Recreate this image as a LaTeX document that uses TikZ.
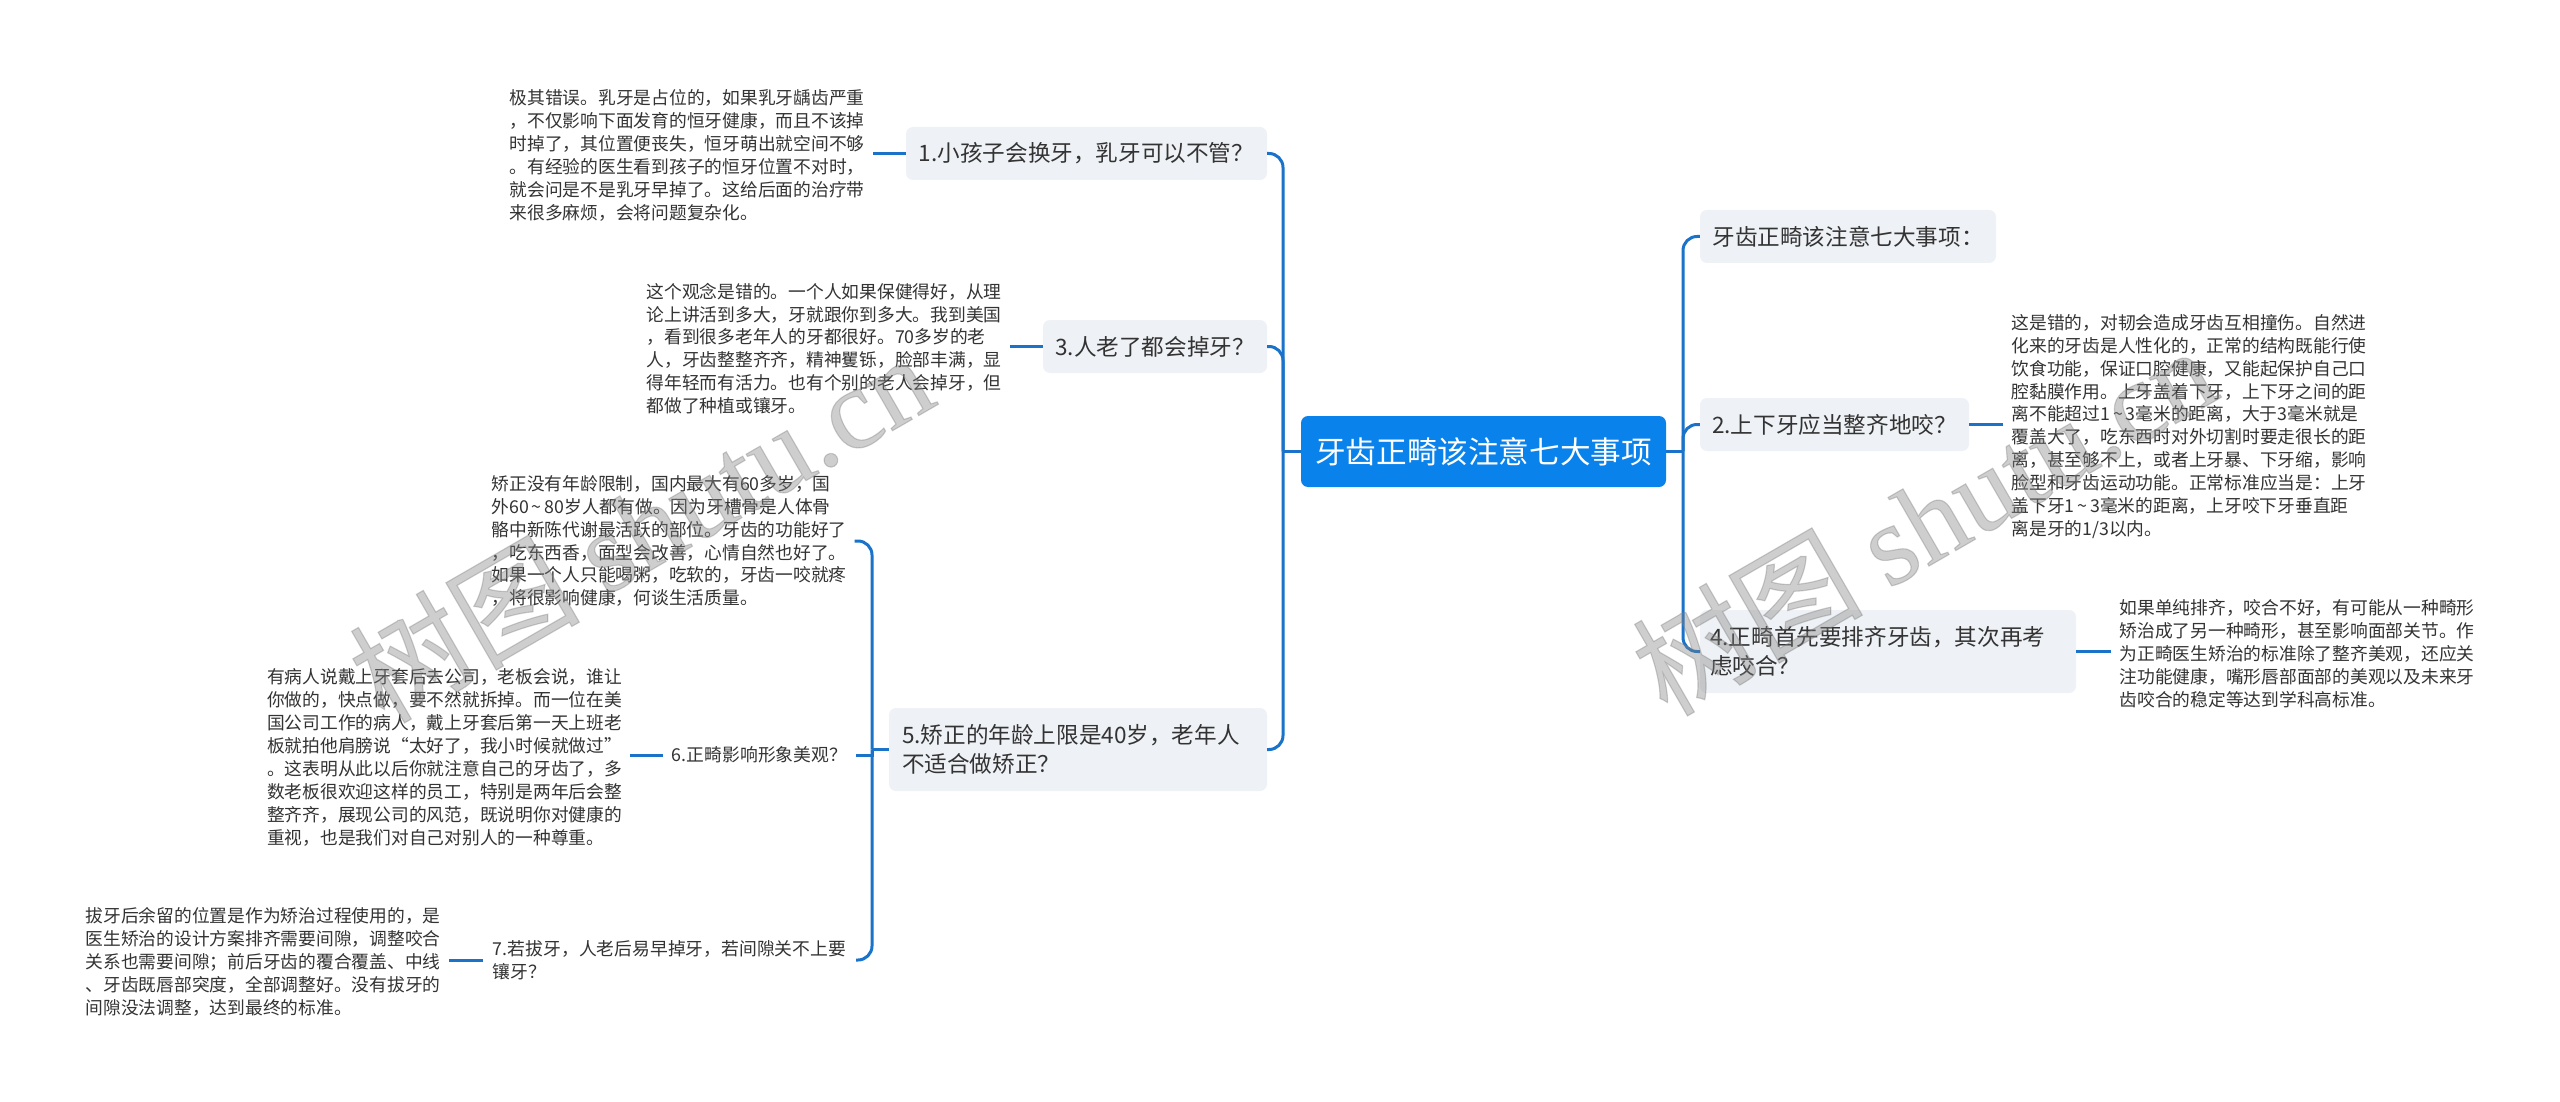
\documentclass[tikz,border=0pt]{standalone}
\usepackage{fontspec}
\setmainfont{Noto Sans CJK SC}
\newfontfamily\markfont[FakeBold=1]{Liberation Serif}
\newfontfamily\markcjk[FakeBold=1]{Noto Sans CJK SC}
\definecolor{linkblue}{HTML}{1A73C8}
\definecolor{rootblue}{HTML}{0A82EC}
\definecolor{boxgray}{HTML}{EEF1F5}
\definecolor{inkgray}{HTML}{333333}
% full width punctuation
\newcommand{\cnc}{^^^^ff0c}
\newcommand{\cnq}{^^^^ff1f}
\newcommand{\cnk}{^^^^ff1a}
\newcommand{\cnf}{^^^^ff1b}
\newcommand{\tld}{\,\textasciitilde\,}
\tikzset{
  link/.style={draw=linkblue,line width=3pt,rounded corners=14pt},
  rootbox/.style={fill=rootblue,text=white,rounded corners=7pt,inner sep=0pt,minimum width=365pt,minimum height=71pt,font=\fontsize{30.6}{36}\selectfont},
  topic/.style={fill=boxgray,text=inkgray,rounded corners=7pt,inner sep=0pt,align=left,font=\fontsize{22.6}{29}\selectfont},
  subtopic/.style={text=inkgray,inner sep=0pt,align=left,font=\fontsize{17.8}{23}\selectfont},
  leaf/.style={text=inkgray,inner xsep=8pt,inner ysep=0pt,align=left,font=\fontsize{17.75}{22.9}\selectfont},
  wmark/.style={text=gray,text opacity=0.38,inner sep=0pt,rotate=30,font=\fontsize{115}{115}\selectfont\markcjk}
}
\begin{document}
\begin{tikzpicture}[x=1pt,y=-1pt]
\useasboundingbox (0,0) rectangle (2560,1102);
\fill[white] (0,0) rectangle (2560,1102);
% centre
\node[rootbox] (root) at (1483.5,451.5) {牙齿正畸该注意七大事项};
% left branch
\node[topic,minimum width=361pt,minimum height=53pt] (n1) at (1086.5,153.5) {1.小孩子会换牙\cnc{}乳牙可以不管\cnq};
\node[topic,minimum width=224pt,minimum height=53pt] (n3) at (1155,346.5) {3.人老了都会掉牙\cnq};
\node[topic,text width=352pt,minimum width=378pt,minimum height=83pt] (n5) at (1078,749.5) {5.矫正的年龄上限是40岁\cnc{}老年人\\不适合做矫正\cnq};
\node[subtopic,minimum width=193pt,minimum height=30pt] (n6) at (759.5,755) {6.正畸影响形象美观\cnq};
\node[subtopic,minimum width=373pt,minimum height=53pt] (n7) at (669.5,960) {7.若拔牙\cnc{}人老后易早掉牙\cnc{}若间隙关不上要\\镶牙\cnq};
\node[leaf] (l1) at (687,155.5) {极其错误。乳牙是占位的\cnc{}如果乳牙龋齿严重\\\cnc{}不仅影响下面发育的恒牙健康\cnc{}而且不该掉\\时掉了\cnc{}其位置便丧失\cnc{}恒牙萌出就空间不够\\。有经验的医生看到孩子的恒牙位置不对时\cnc\\就会问是不是乳牙早掉了。这给后面的治疗带\\来很多麻烦\cnc{}会将问题复杂化。};
\node[leaf] (l3) at (824,348.5) {这个观念是错的。一个人如果保健得好\cnc{}从理\\论上讲活到多大\cnc{}牙就跟你到多大。我到美国\\\cnc{}看到很多老年人的牙都很好。70多岁的老\\人\cnc{}牙齿整整齐齐\cnc{}精神矍铄\cnc{}脸部丰满\cnc{}显\\得年轻而有活力。也有个别的老人会掉牙\cnc{}但\\都做了种植或镶牙。};
\node[leaf] (l5) at (669,541) {矫正没有年龄限制\cnc{}国内最大有60多岁\cnc{}国\\外60\tld{}80岁人都有做。因为牙槽骨是人体骨\\骼中新陈代谢最活跃的部位。牙齿的功能好了\\\cnc{}吃东西香\cnc{}面型会改善\cnc{}心情自然也好了。\\如果一个人只能喝粥\cnc{}吃软的\cnc{}牙齿一咬就疼\\\cnc{}将很影响健康\cnc{}何谈生活质量。};
\node[leaf] (l6) at (444.5,757.5) {有病人说戴上牙套后去公司\cnc{}老板会说\cnc{}谁让\\你做的\cnc{}快点做\cnc{}要不然就拆掉。而一位在美\\国公司工作的病人\cnc{}戴上牙套后第一天上班老\\板就拍他肩膀说“太好了\cnc{}我小时候就做过”\\。这表明从此以后你就注意自己的牙齿了\cnc{}多\\数老板很欢迎这样的员工\cnc{}特别是两年后会整\\整齐齐\cnc{}展现公司的风范\cnc{}既说明你对健康的\\重视\cnc{}也是我们对自己对别人的一种尊重。};
\node[leaf] (l7) at (263,962) {拔牙后余留的位置是作为矫治过程使用的\cnc{}是\\医生矫治的设计方案排齐需要间隙\cnc{}调整咬合\\关系也需要间隙\cnf{}前后牙齿的覆合覆盖、中线\\、牙齿既唇部突度\cnc{}全部调整好。没有拔牙的\\间隙没法调整\cnc{}达到最终的标准。};
% right branch
\node[topic,minimum width=296pt,minimum height=53pt] (n0) at (1848,236.5) {牙齿正畸该注意七大事项\cnk};
\node[topic,minimum width=269pt,minimum height=53pt] (n2) at (1834.5,424.5) {2.上下牙应当整齐地咬\cnq};
\node[topic,text width=356pt,minimum width=376pt,minimum height=83pt] (n4) at (1888,651.5) {4.正畸首先要排齐牙齿\cnc{}其次再考\\虑咬合\cnq};
\node[leaf] (l2) at (2189,426.5) {这是错的\cnc{}对韧会造成牙齿互相撞伤。自然进\\化来的牙齿是人性化的\cnc{}正常的结构既能行使\\饮食功能\cnc{}保证口腔健康\cnc{}又能起保护自己口\\腔黏膜作用。上牙盖着下牙\cnc{}上下牙之间的距\\离不能超过1\tld{}3毫米的距离\cnc{}大于3毫米就是\\覆盖大了\cnc{}吃东西时对外切割时要走很长的距\\离\cnc{}甚至够不上\cnc{}或者上牙暴、下牙缩\cnc{}影响\\脸型和牙齿运动功能。正常标准应当是\cnk{}上牙\\盖下牙1\tld{}3毫米的距离\cnc{}上牙咬下牙垂直距\\离是牙的1/3以内。};
\node[leaf] (l4) at (2297,654) {如果单纯排齐\cnc{}咬合不好\cnc{}有可能从一种畸形\\矫治成了另一种畸形\cnc{}甚至影响面部关节。作\\为正畸医生矫治的标准除了整齐美观\cnc{}还应关\\注功能健康\cnc{}嘴形唇部面部的美观以及未来牙\\齿咬合的稳定等达到学科高标准。};
% trunks
\coordinate (ltrunk) at (1283,451.5);
\coordinate (rtrunk) at (1683,451.5);
\coordinate (strunk) at (872,749.5);
\draw[link] (root.west) -- (ltrunk);
\draw[link] (root.east) -- (rtrunk);
\draw[link] (n5.west) -- (strunk);
\foreach \n in {n1,n3,n5} \draw[link] (ltrunk) |- (\n.east);
\foreach \n in {n0,n2,n4} \draw[link] (rtrunk) |- (\n.west);
\foreach \n in {l5,n7} \draw[link] (strunk) |- (\n.east);
\draw[link,rounded corners=0pt] (strunk) |- (n6.east);
% leaves
\foreach \a/\b in {n1/l1,n3/l3,n6/l6,n7/l7} \draw[link] (\a.west) -- (\a.west -| \b.east);
\foreach \a/\b in {n2/l2,n4/l4} \draw[link] (\a.east) -- (\a.east -| \b.west);
% watermark
\node[wmark] (markl) at (640,526) {树图 {\markfont shutu.cn}};
\node[wmark] (markr) at (1923,519) {树图 {\markfont shutu.cn}};
\end{tikzpicture}
\end{document}
